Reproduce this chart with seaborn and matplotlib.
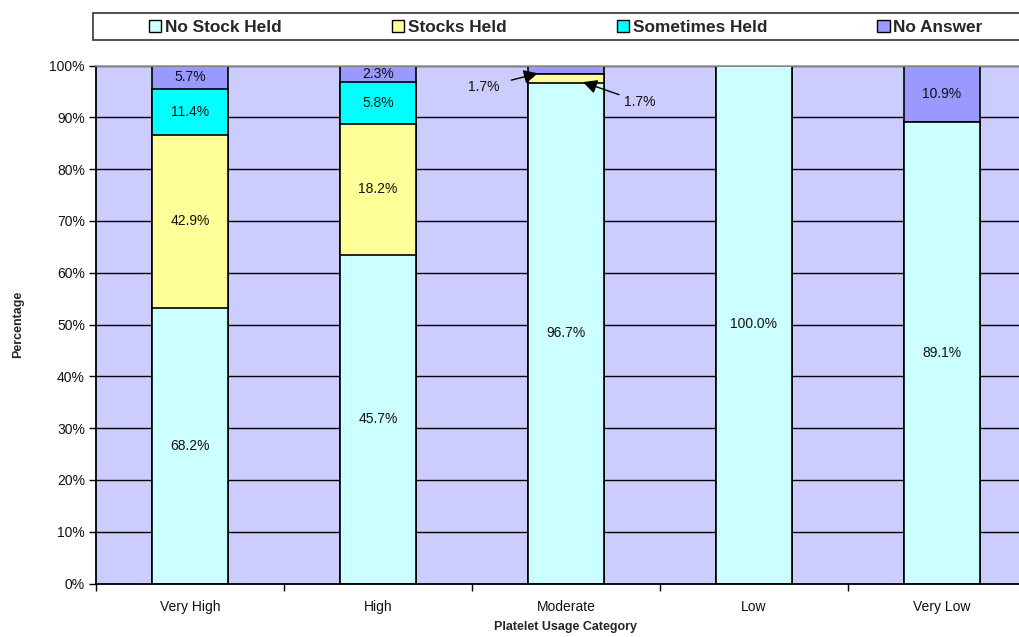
import numpy as np
import pandas as pd
import matplotlib
matplotlib.use("Agg")
import matplotlib.pyplot as plt
from matplotlib.patches import Patch, Rectangle
from matplotlib.ticker import FixedLocator, PercentFormatter
import seaborn as sns

# Usage categories and the response values reported for each group
categories = ["Very High", "High", "Moderate", "Low", "Very Low"]
series_names = ["No Stock Held", "Stocks Held", "Sometimes Held", "No Answer"]
no_stock_held = [68.2, 45.7, 96.7, 100.0, 89.1]
stocks_held = [42.9, 18.2, 1.7, 0.0, 0.0]
sometimes_held = [11.4, 5.8, 0.0, 0.0, 0.0]
no_answer = [5.7, 2.3, 1.7, 0.0, 10.9]

colors = ["#CCFFFF", "#FFFF99", "#00FFFF", "#9999FF"]

sns.set_theme(style="white")
plt.rcParams["font.family"] = ["Liberation Sans", "DejaVu Sans"]

raw = pd.DataFrame(
    {
        "No Stock Held": no_stock_held,
        "Stocks Held": stocks_held,
        "Sometimes Held": sometimes_held,
        "No Answer": no_answer,
    },
    index=categories,
)
# 100% stacked: each column's share of the row total
share = raw.div(raw.sum(axis=1), axis=0) * 100
cum = share.cumsum(axis=1)
base = cum - share

fig = plt.figure(figsize=(10.2, 6.37), dpi=100)
ax = fig.add_axes([96 / 1020, 1 - 583.5 / 637, 940 / 1020, 518 / 637])
ax.set_facecolor("#CCCCFF")

# Gridlines beneath the bars
for v in range(10, 101, 10):
    ax.axhline(v, color="black", lw=1, zorder=0.5)

# Draw from the top layer down so each stacked segment shows
for name, color in reversed(list(zip(series_names, colors))):
    df = pd.DataFrame({"category": categories, "value": cum[name].values})
    sns.barplot(
        data=df, x="category", y="value", order=categories,
        color=color, saturation=1, width=0.4,
        edgecolor="black", linewidth=1.2, ax=ax, zorder=2,
    )

# Value labels in the middle of each segment
for i, cat in enumerate(categories):
    for name in series_names:
        val = raw.loc[cat, name]
        if val <= 0:
            continue
        if cat == "Moderate" and name in ("Stocks Held", "No Answer"):
            continue
        mid = base.loc[cat, name] + share.loc[cat, name] / 2
        ax.text(i, mid, f"{val:.1f}%", ha="center", va="center",
                fontsize=10, color="#111111", zorder=4)

# Thin Moderate segments are labelled with arrows
mi = categories.index("Moderate")
arrow = dict(arrowstyle="-|>,head_length=0.6,head_width=0.3", color="black",
             lw=1, mutation_scale=14, shrinkA=6, shrinkB=0)
ax.annotate(f"{raw.loc['Moderate', 'No Answer']:.1f}%",
            xy=(mi - 0.15, 98.5), xytext=(mi - 0.435, 95.8),
            ha="center", va="center", fontsize=10, color="#111111",
            arrowprops=arrow, zorder=5)
ax.annotate(f"{raw.loc['Moderate', 'Stocks Held']:.1f}%",
            xy=(mi + 0.09, 96.8), xytext=(mi + 0.39, 93.0),
            ha="center", va="center", fontsize=10, color="#111111",
            arrowprops=dict(arrow, shrinkA=1), zorder=5)

ax.set_xlim(-0.5, 4.5)
ax.set_ylim(0, 100)
ax.yaxis.set_major_locator(FixedLocator(np.arange(0, 101, 10)))
ax.yaxis.set_major_formatter(PercentFormatter(decimals=0))
ax.xaxis.set_minor_locator(FixedLocator(np.arange(-0.5, 4.6, 1)))
ax.tick_params(axis="x", which="major", length=0, pad=12, labelsize=10,
               labelcolor="#111111")
ax.tick_params(axis="x", which="minor", length=5, width=1, color="black",
               direction="out", bottom=True)
ax.tick_params(axis="y", length=5, width=1, color="black", direction="out",
               left=True, labelsize=10, labelcolor="#111111", pad=3)

ax.set_xlabel("Platelet Usage Category", fontsize=9, fontweight="bold",
              labelpad=5)
ax.set_ylabel("Percentage", fontsize=9, fontweight="bold", labelpad=18)

for side in ("left", "bottom"):
    ax.spines[side].set_color("black")
    ax.spines[side].set_linewidth(1.3)
ax.spines["top"].set_color("#999999")
ax.spines["top"].set_linewidth(1.2)
ax.spines["right"].set_visible(False)

# Legend box across the top
fig.patches.append(Rectangle(
    (93 / 1020, 1 - 40 / 637), 960 / 1020, 27 / 637,
    transform=fig.transFigure, facecolor="white", edgecolor="#333333",
    lw=1.2, zorder=0,
))
handles = [Patch(facecolor=c, edgecolor="black", lw=1, label=n)
           for n, c in zip(series_names, colors)]
leg = fig.legend(
    handles=handles, ncol=4, loc="center",
    bbox_to_anchor=(566 / 1020, 1 - 27.5 / 637),
    frameon=False, borderaxespad=0,
    prop={"weight": "bold", "size": 12.4},
    handlelength=0.7, handleheight=0.7, handletextpad=0.23,
    borderpad=0, columnspacing=6.4,
)

fig.savefig("out.png", dpi=100, facecolor="white")
